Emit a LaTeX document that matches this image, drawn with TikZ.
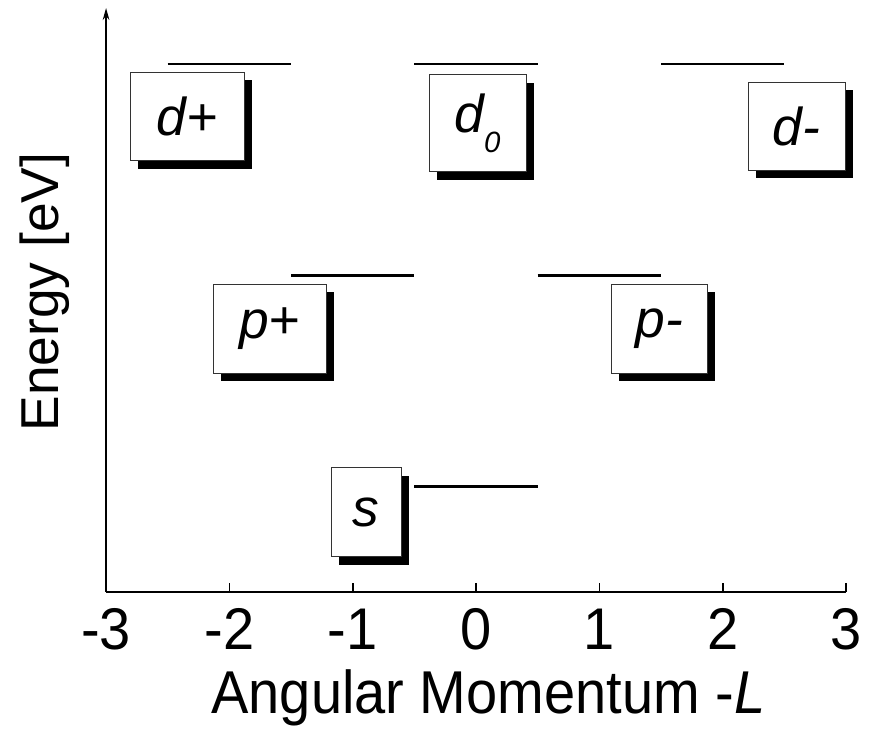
\documentclass[tikz,border=0pt]{standalone}
\usepackage{fontspec}
\setmainfont{Liberation Sans}
\usetikzlibrary{shadows,arrows.meta}
\tikzset{
  orbbox/.style={draw=black!80,line width=0.7pt,fill=white,inner sep=0pt,
    font=\fontsize{40}{48}\selectfont\itshape,minimum height=66.75pt,
    drop shadow={shadow xshift=6pt,shadow yshift=-6pt,fill=black,opacity=1}},
  level/.style={line width=2pt},
  bigfont/.style={font=\fontsize{42}{50}\selectfont}
}

\begin{document}
\begin{tikzpicture}[x=92.5pt,y=79.2pt,line cap=butt]
  \useasboundingbox (-3.86,-1.42) rectangle (3.243,5.606);
  % axes
  \draw[line width=1.2pt,-{Stealth[length=9pt,width=5pt]}] (-3,0) -- (-3,5.53);
  \draw[line width=1.4pt] (-3,0) -- (3,0);
  \foreach \t in {-3,...,3}{
    \draw[line width=1.2pt] (\t,0) -- ++(0,6.75pt);
    \node[bigfont] (tick\t) at (\t,-0.35) {\scalebox{1}[1.05]{\t}};
  }
  \node[bigfont] (xlabel) at (0.1,-1.0) {\scalebox{1}[1.08]{Angular Momentum -\textit{L}}};
  \node[bigfont,font=\fontsize{40}{48}\selectfont,rotate=90] (ylabel) at (-3.495,2.84) {Energy [eV]};
  % levels
  \foreach \a/\b/\e in {-2.5/-1.5/5,-0.5/0.5/5,1.5/2.5/5,-1.5/-0.5/3,0.5/1.5/3,-0.5/0.5/1}{
    \draw[level] (\a,\e) -- (\b,\e);
  }
  % labels
  \node[orbbox,minimum width=85.5pt] (dplus) at (-2.343,4.503) {d+};
  \node[orbbox,minimum width=72.75pt,minimum height=72.75pt] (dzero) at (0.012,4.437) {d\raisebox{-15pt}{\fontsize{22}{24}\selectfont 0}};
  \node[orbbox,minimum width=72.75pt,minimum height=66pt] (dminus) at (2.599,4.413) {d-};
  \node[orbbox,minimum width=84.75pt] (pplus) at (-1.674,2.495) {p+};
  \node[orbbox,minimum width=72pt] (pminus) at (1.484,2.495) {p-};
  \node[orbbox,minimum width=52.5pt] (sorb) at (-0.892,0.753) {s};
\end{tikzpicture}
\end{document}
